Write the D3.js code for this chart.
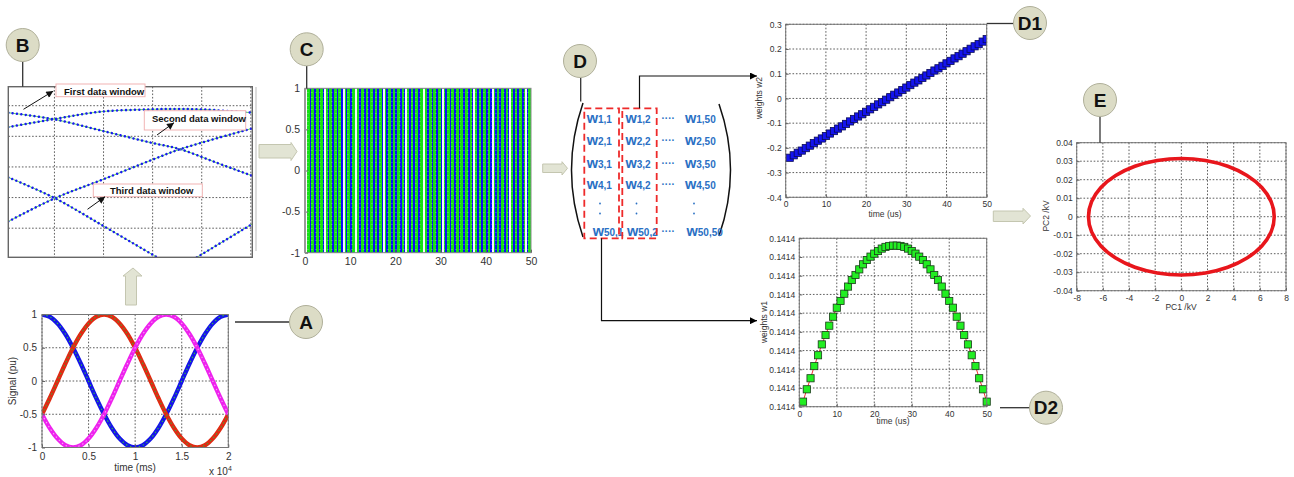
<!DOCTYPE html>
<html><head><meta charset="utf-8">
<script src="https://cdn.jsdelivr.net/npm/d3@7"></script>
<style>body{margin:0;background:#fff}svg{display:block}text{font-family:"Liberation Sans",Arial,sans-serif}</style>
</head><body><svg id="c" width="1294" height="477"></svg>
<script>
// ---------------- DATA ----------------
// Panel A: three-phase signals (time in x10^4 ms)
const aTime = [0,0.083,0.167,0.25,0.333,0.417,0.5,0.583,0.667,0.75,0.833,0.917,1,1.083,1.167,1.25,1.333,1.417,1.5,1.583,1.667,1.75,1.833,1.917,2];
const aBlue = [1,0.966,0.866,0.707,0.5,0.259,0,-0.259,-0.5,-0.707,-0.866,-0.966,-1,-0.966,-0.866,-0.707,-0.5,-0.259,0,0.259,0.5,0.707,0.866,0.966,1];
const aRed = [-0.5,-0.259,0,0.259,0.5,0.707,0.866,0.966,1,0.966,0.866,0.707,0.5,0.259,0,-0.259,-0.5,-0.707,-0.866,-0.966,-1,-0.966,-0.866,-0.707,-0.5];
const aMagenta = [-0.5,-0.707,-0.866,-0.966,-1,-0.966,-0.866,-0.707,-0.5,-0.259,0,0.259,0.5,0.707,0.866,0.966,1,0.966,0.866,0.707,0.5,0.259,0,-0.259,-0.5];
const aXTicks = [0,0.5,1,1.5,2];
const aYTicks = [-1,-0.5,0,0.5,1];

// Panel B: zoomed data windows (grid units)
const bLine1X = [0.06,0.98,2.0,3.0,3.56,4.3,5.03];
const bLine1Y = [4.77,4.56,4.17,3.78,3.58,3.14,2.71];
const bLine2X = [0.06,0.98,1.93,2.95,3.5,3.97,5.03];
const bLine2Y = [4.30,4.56,4.80,4.88,4.89,4.88,4.77];
const bLine3X = [0.06,1.01,2.0,3.0,3.56,5.03];
const bLine3Y = [1.22,1.98,2.6,3.24,3.58,4.26];
const bLine4X = [0.06,1.01,2.0,3.09];
const bLine4Y = [2.66,1.98,1.07,0.05];
const bLine5X = [3.90,5.03];
const bLine5Y = [0.05,1.14];
const bGrid = [1,2,3,4,5];
const bNotes = ["First data window","Second data window","Third data window"];

// Panel C: windowed data matrix
const cCols = [1,2,3,4,5,6,7,8,9,10,11,12,13,14,15,16,17,18,19,20,21,22,23,24,25,26,27,28,29,30,31,32,33,34,35,36,37,38,39,40,41,42,43,44,45,46,47,48,49,50];
const cGaps = [4.1,8.5,11.0,17.3,22.2,26.2,30.2,37.2,41.3,45.1,48.7];
const cXTicks = [0,10,20,30,40,50];
const cYTicks = [-1,-0.5,0,0.5,1];

// Panel D: weight matrix labels
const dRows = ["1","2","3","4","50"];
const dCols = ["1","2","50"];

// Panel D1: weights w2
const d1Time = cCols;
const d1W2 = [-0.240,-0.230,-0.220,-0.211,-0.201,-0.191,-0.181,-0.171,-0.162,-0.152,-0.142,-0.132,-0.122,-0.113,-0.103,-0.093,-0.083,-0.073,-0.064,-0.054,-0.044,-0.034,-0.024,-0.015,-0.005,0.005,0.015,0.024,0.034,0.044,0.054,0.064,0.073,0.083,0.093,0.103,0.113,0.122,0.132,0.142,0.152,0.162,0.171,0.181,0.191,0.201,0.211,0.220,0.230,0.240];
const d1XTicks = [0,10,20,30,40,50];
const d1YTicks = [-0.4,-0.3,-0.2,-0.1,0,0.1,0.2,0.3];

// Panel D2: weights w1 (tick index units; all ticks read 0.1414)
const d2Time = cCols;
const d2W1 = [0.27,0.93,1.52,2.17,2.75,3.33,3.83,4.33,4.81,5.29,5.65,6.04,6.42,6.77,7.04,7.34,7.61,7.84,8.02,8.18,8.32,8.45,8.54,8.59,8.61,8.61,8.59,8.54,8.45,8.32,8.18,8.02,7.84,7.61,7.34,7.04,6.77,6.42,6.04,5.65,5.29,4.81,4.33,3.83,3.33,2.75,2.17,1.52,0.93,0.27];
const d2YTickLabels = ["0.1414","0.1414","0.1414","0.1414","0.1414","0.1414","0.1414","0.1414","0.1414","0.1414"];
const d2XTicks = [0,10,20,30,40,50];

// Panel E: PC1 vs PC2
const ePC1 = [7.1,6.86,6.15,5.02,3.55,1.84,0,-1.84,-3.55,-5.02,-6.15,-6.86,-7.1,-6.86,-6.15,-5.02,-3.55,-1.84,0,1.84,3.55,5.02,6.15,6.86];
const ePC2 = [0,0.0082,0.0158,0.0223,0.0273,0.0304,0.0315,0.0304,0.0273,0.0223,0.0158,0.0082,0,-0.0082,-0.0158,-0.0223,-0.0273,-0.0304,-0.0315,-0.0304,-0.0273,-0.0223,-0.0158,-0.0082];
const eXTicks = [-8,-6,-4,-2,0,2,4,6,8];
const eYTicks = [-0.04,-0.03,-0.02,-0.01,0,0.01,0.02,0.03,0.04];

// ---------------- HELPERS ----------------
const svg = d3.select("#c");
const defs = svg.append("defs");
defs.append("marker").attr("id","ah").attr("viewBox","0 0 10 10").attr("refX",10).attr("refY",5)
  .attr("markerWidth",9).attr("markerHeight",7).attr("markerUnits","userSpaceOnUse").attr("orient","auto")
  .append("path").attr("d","M0,0L10,5L0,10z").attr("fill","#000");
defs.append("marker").attr("id","ah2").attr("viewBox","0 0 10 10").attr("refX",10).attr("refY",5)
  .attr("markerWidth",8).attr("markerHeight",7).attr("markerUnits","userSpaceOnUse").attr("orient","auto")
  .append("path").attr("d","M0,0L10,5L0,10z").attr("fill","#111");

let clipN = 0;
function frame(c){
  const g = svg.append("g");
  const x = d3.scaleLinear().domain(c.xd).range([c.x0,c.x1]);
  const y = d3.scaleLinear().domain(c.yd).range([c.y1,c.y0]);
  const id = "clip"+(clipN++);
  defs.append("clipPath").attr("id",id).append("rect").attr("x",c.x0).attr("y",c.y0).attr("width",c.x1-c.x0).attr("height",c.y1-c.y0);
  const plot = g.append("g");
  if (c.grid !== false){
    plot.selectAll(".gx").data(c.xg||c.xt||[]).join("line")
      .attr("x1",d=>x(d)).attr("x2",d=>x(d)).attr("y1",c.y0).attr("y2",c.y1)
      .attr("stroke","#333").attr("stroke-width",0.8).attr("stroke-dasharray","1.6,1.8");
    plot.selectAll(".gy").data(c.yg||c.yt||[]).join("line")
      .attr("y1",d=>y(d)).attr("y2",d=>y(d)).attr("x1",c.x0).attr("x2",c.x1)
      .attr("stroke","#333").attr("stroke-width",0.8).attr("stroke-dasharray","1.6,1.8");
  }
  const marks = g.append("g").attr("clip-path",`url(#${id})`);
  return {g,x,y,marks,c};
}
function finish(p){
  const c = p.c, g = p.g;
  g.append("rect").attr("x",c.x0).attr("y",c.y0).attr("width",c.x1-c.x0).attr("height",c.y1-c.y0)
    .attr("fill","none").attr("stroke",c.boxColor||"#777").attr("stroke-width",c.boxW||1);
  const fs = c.fs||9;
  if (c.xt){
    const ax = g.append("g").attr("transform",`translate(0,${c.y1})`)
      .call(d3.axisBottom(p.x).tickValues(c.xt).tickFormat(c.xf||(d=>String(d))).tickSize(-3).tickPadding(c.xpad||4));
    ax.select(".domain").remove();
    ax.selectAll("line").attr("stroke","#666");
    ax.selectAll("text").attr("font-size",fs).attr("fill","#333").attr("font-family",'"Liberation Sans",Arial,sans-serif');
  }
  if (c.yt){
    const ay = g.append("g").attr("transform",`translate(${c.x0},0)`)
      .call(d3.axisLeft(p.y).tickValues(c.yt).tickFormat(c.yf||(d=>String(d))).tickSize(-3).tickPadding(c.ypad||4));
    ay.select(".domain").remove();
    ay.selectAll("line").attr("stroke","#666");
    ay.selectAll("text").attr("font-size",fs).attr("fill","#333").attr("font-family",'"Liberation Sans",Arial,sans-serif');
  }
  if (c.xlab) g.append("text").attr("x",c.xlab[1]).attr("y",c.xlab[2]).attr("text-anchor","middle").attr("font-size",c.lfs||fs).attr("fill","#333").text(c.xlab[0]);
  if (c.ylab) g.append("text").attr("transform",`translate(${c.ylab[1]},${c.ylab[2]}) rotate(-90)`).attr("text-anchor","middle").attr("font-size",c.lfs||fs).attr("fill","#333").text(c.ylab[0]);
}
function badge(cx,cy,label){
  svg.append("circle").attr("cx",cx).attr("cy",cy).attr("r",16.5).attr("fill","#dcdcc6").attr("stroke","#b0b09a").attr("stroke-width",1);
  svg.append("text").attr("x",cx).attr("y",cy+6.5).attr("text-anchor","middle").attr("font-size",19).attr("font-weight","bold").attr("fill","#111").text(label);
}
function conn(x1,y1,x2,y2){
  svg.append("line").attr("x1",x1).attr("y1",y1).attr("x2",x2).attr("y2",y2).attr("stroke","#333").attr("stroke-width",1.3);
}
function blockArrow(pts){
  svg.append("polygon").attr("points",pts.map(p=>p.join(",")).join(" ")).attr("fill","#e2e4d4").attr("stroke","#c4c6b0").attr("stroke-width",1);
}
const zip = (xs,ys)=>xs.map((v,i)=>[v,ys[i]]);

// ---------------- PANEL A ----------------
{
  const p = frame({x0:42,x1:228.3,y0:314.5,y1:447.5,xd:[0,2],yd:[-1,1],xt:aXTicks,yt:aYTicks,fs:10,xpad:5,ypad:5,
    xlab:["time (ms)",135,471],ylab:["Signal (pu)",16,381]});
  const line = d3.line().x(d=>p.x(d[0])).y(d=>p.y(d[1])).curve(d3.curveCatmullRom);
  [[aBlue,"#1515e8","#35c835"],[aRed,"#e02a12","#3ca83c"],[aMagenta,"#ee22ee","#f6a6f6"]].forEach(([s,col,inner])=>{
    p.marks.append("path").attr("d",line(zip(aTime,s))).attr("fill","none").attr("stroke",col).attr("stroke-width",4.4);
    p.marks.append("path").attr("d",line(zip(aTime,s))).attr("fill","none").attr("stroke",inner).attr("stroke-width",1.1).attr("stroke-dasharray","1.4,3");
  });
  finish(p);
  const t = svg.append("text").attr("x",209).attr("y",475).attr("font-size",10).attr("fill","#333");
  t.append("tspan").text("x 10");
  t.append("tspan").attr("dy",-4).attr("font-size",7).text("4");
}

// ---------------- PANEL B ----------------
{
  const p = frame({x0:8.3,x1:252.3,y0:86.7,y1:257.3,xd:[0.06,5.03],yd:[0.05,5.62],xg:bGrid,yg:bGrid,boxColor:"#666",boxW:1.4});
  const line = d3.line().x(d=>p.x(d[0])).y(d=>p.y(d[1])).curve(d3.curveCatmullRom);
  [[bLine1X,bLine1Y],[bLine2X,bLine2Y],[bLine3X,bLine3Y],[bLine4X,bLine4Y],[bLine5X,bLine5Y]].forEach(([xs,ys])=>{
    p.marks.append("path").attr("d",line(zip(xs,ys))).attr("fill","none").attr("stroke","#5cdc5c").attr("stroke-width",1);
    p.marks.append("path").attr("d",line(zip(xs,ys))).attr("fill","none").attr("stroke","#1a1af0").attr("stroke-width",2.5)
      .attr("stroke-linecap","round").attr("stroke-dasharray","0.01,4.4");
  });
  finish(p);
  const notes = [
    {t:bNotes[0],bx:[56,84,89,12.7],tx:64,ty:94.5,a:[23.5,109.3,53.3,91]},
    {t:bNotes[1],bx:[144.3,110.7,101.4,19.3],tx:152,ty:122,a:[157,135,174,122.7]},
    {t:bNotes[2],bx:[93.3,184,109,12.7],tx:110,ty:194,a:[87.5,209.3,105,196.7]}
  ];
  notes.forEach(n=>{
    svg.append("rect").attr("x",n.bx[0]).attr("y",n.bx[1]).attr("width",n.bx[2]).attr("height",n.bx[3]).attr("fill","#fff").attr("stroke","#f2b4b4").attr("stroke-width",1);
    svg.append("text").attr("x",n.tx).attr("y",n.ty).attr("font-size",9.5).attr("font-weight","bold").attr("fill","#111").text(n.t);
    svg.append("line").attr("x1",n.a[0]).attr("y1",n.a[1]).attr("x2",n.a[2]).attr("y2",n.a[3]).attr("stroke","#111").attr("stroke-width",1).attr("marker-end","url(#ah2)");
  });
}

// ---------------- PANEL C ----------------
{
  const p = frame({x0:305,x1:531,y0:88.3,y1:252.7,xd:[0,50],yd:[-1,1],xt:cXTicks,yt:cYTicks,grid:false,fs:10.5,xpad:5,ypad:5,boxColor:"#888"});
  const top = Math.round(p.y(1)), bot = Math.round(p.y(-1));
  p.marks.append("rect").attr("x",Math.round(p.x(0.4))).attr("y",top).attr("width",Math.round(p.x(50))-Math.round(p.x(0.4))).attr("height",bot-top)
    .attr("fill","#0c0cf5").attr("shape-rendering","crispEdges");
  p.marks.selectAll(".gs").data(cCols).join("rect")
    .attr("x",d=>Math.round(p.x(d-0.6))).attr("y",top).attr("width",d=>Math.round(p.x(d))-Math.round(p.x(d-0.6))).attr("height",bot-top)
    .attr("fill","#16e016").attr("shape-rendering","crispEdges");
  p.marks.selectAll(".hl").data(d3.range(-1,1.0001,0.05)).join("line")
    .attr("x1",p.x(0.4)).attr("x2",p.x(50)).attr("y1",d=>Math.round(p.y(d))+0.5).attr("y2",d=>Math.round(p.y(d))+0.5)
    .attr("stroke","#ffffff").attr("stroke-opacity",0.22).attr("stroke-width",1).attr("stroke-dasharray","2,2");
  p.marks.selectAll(".gap").data(cGaps).join("rect")
    .attr("x",d=>Math.round(p.x(d))).attr("y",top).attr("width",1.5).attr("height",bot-top).attr("fill","#f4f4ff").attr("shape-rendering","crispEdges");
  finish(p);
  svg.append("line").attr("x1",305).attr("x2",305).attr("y1",88.3).attr("y2",252.7).attr("stroke","#999").attr("stroke-width",2);
  svg.append("line").attr("x1",256).attr("x2",256).attr("y1",87).attr("y2",251).attr("stroke","#bbb").attr("stroke-width",1);
}

// ---------------- PANEL D (matrix) ----------------
{
  svg.append("path").attr("d","M583,103 Q560,170 583,237").attr("fill","none").attr("stroke","#111").attr("stroke-width",1.5);
  svg.append("path").attr("d","M719,104 Q742,170 719,236").attr("fill","none").attr("stroke","#111").attr("stroke-width",1.5);
  const colX = [586.7,625.5,685];
  const rowY = [122.5,144.5,167.5,188.5,236];
  const blue = "#2a70c4";
  dRows.forEach((r,ri)=>{
    dCols.forEach((c,ci)=>{
      const xx = colX[ci] + (ri===4 ? (ci===0?6:1.5) : 0);
      const t = svg.append("text").attr("x",xx).attr("y",rowY[ri]).attr("fill",blue).attr("font-weight","bold");
      t.append("tspan").attr("font-size",14.5).text("w");
      t.append("tspan").attr("font-size",10).text(r+","+c);
    });
    svg.append("text").attr("x",661.5).attr("y",rowY[ri]-1).attr("font-size",10).attr("fill",blue).attr("font-weight","bold").text("····");
  });
  [203.5,213.5].forEach(yy=>{
    [600,636.5,694].forEach(xx=>{
      svg.append("circle").attr("cx",xx).attr("cy",yy).attr("r",0.9).attr("fill",blue);
    });
  });
  [[584.3,108.3,34.7,130],[622.3,108.3,34.4,130]].forEach(r=>{
    svg.append("rect").attr("x",r[0]).attr("y",r[1]).attr("width",r[2]).attr("height",r[3]).attr("fill","none")
      .attr("stroke","#ee2a2a").attr("stroke-width",1.8).attr("stroke-dasharray","7,4");
  });
  svg.append("path").attr("d","M639.5,108.3 V76 H757").attr("fill","none").attr("stroke","#111").attr("stroke-width",1.2).attr("marker-end","url(#ah)");
  svg.append("path").attr("d","M601.5,238.3 V320.7 H757").attr("fill","none").attr("stroke","#111").attr("stroke-width",1.2).attr("marker-end","url(#ah)");
}

// ---------------- PANEL D1 ----------------
{
  const p = frame({x0:785.7,x1:986.7,y0:24.3,y1:197.3,xd:[0,50],yd:[-0.4,0.3],xt:d1XTicks,yt:d1YTicks,fs:8.5,
    yf:d=>d===0?"0":d.toFixed(1),xlab:["time (us)",885,217],ylab:["weights w2",762,98]});
  const pts = zip(d1Time,d1W2);
  p.marks.append("path").attr("d",d3.line().x(d=>p.x(d[0])).y(d=>p.y(d[1]))(pts)).attr("fill","none").attr("stroke","#1a1ae0").attr("stroke-width",1);
  p.marks.selectAll(".sq").data(pts).join("rect")
    .attr("x",d=>p.x(d[0])-3.6).attr("y",d=>p.y(d[1])-3.6).attr("width",7.2).attr("height",7.2)
    .attr("fill","#1414ee").attr("stroke","#0a0a55").attr("stroke-width",0.8);
  finish(p);
}

// ---------------- PANEL D2 ----------------
{
  const p = frame({x0:799.3,x1:986.7,y0:238.3,y1:406.7,xd:[0,50],yd:[0,9],xt:d2XTicks,yt:[0,1,2,3,4,5,6,7,8,9],fs:8.5,
    yf:(d,i)=>d2YTickLabels[i],xlab:["time (us)",893,424],ylab:["weights w1",767,322]});
  const pts = zip(d2Time,d2W1);
  p.marks.append("path").attr("d",d3.line().x(d=>p.x(d[0])).y(d=>p.y(d[1]))(pts)).attr("fill","none").attr("stroke","#f03030").attr("stroke-width",1);
  const g2 = p.g.append("g");
  g2.selectAll(".sq").data(pts).join("rect")
    .attr("x",d=>p.x(d[0])-3.6).attr("y",d=>p.y(d[1])-3.6).attr("width",7.2).attr("height",7.2)
    .attr("fill","#22ee22").attr("stroke","#1a3a1a").attr("stroke-width",0.8);
  finish(p);
}

// ---------------- PANEL E ----------------
{
  const p = frame({x0:1076.7,x1:1286,y0:142.7,y1:290.7,xd:[-8,8],yd:[-0.04,0.04],xt:eXTicks,yt:eYTicks,fs:8.5,
    yf:d=>Math.abs(d)<1e-9?"0":d.toFixed(2),xlab:["PC1 /kV",1181,310],ylab:["PC2 /kV",1049,216]});
  p.marks.append("path").attr("d",d3.line().x(d=>p.x(d[0])).y(d=>p.y(d[1])).curve(d3.curveCardinalClosed)(zip(ePC1,ePC2)))
    .attr("fill","none").attr("stroke","#e8161c").attr("stroke-width",3.6);
  finish(p);
}

// ---------------- ARROWS & BADGES ----------------
blockArrow([[125.5,305],[136.5,305],[136.5,276],[142,276],[133,268],[123,276],[125.5,276]]);
blockArrow([[259,144.5],[291,144.5],[291,142.5],[297,151.5],[291,160.5],[291,158],[259,158]]);
blockArrow([[542.7,164],[562,164],[562,161.7],[567.5,168.3],[562,175],[562,172.5],[542.7,172.5]]);
blockArrow([[993.3,211],[1023,211],[1023,208.3],[1030.5,216],[1023,224],[1023,221.5],[993.3,221.5]]);

conn(235,322,289.5,322); badge(306,322,"A");
conn(22.7,61.5,22.7,86.7); badge(22.7,45,"B");
conn(306.7,66,306.7,88.3); badge(306.7,49.3,"C");
conn(580.7,77.5,580.7,101.5); badge(580,61,"D");
conn(986.7,23.5,1014,23.5); badge(1030,23,"D1");
conn(1000,407.7,1030,407.7); badge(1046,407.7,"D2");
conn(1100,116.5,1100,142.7); badge(1100,100,"E");
</script></body></html>
